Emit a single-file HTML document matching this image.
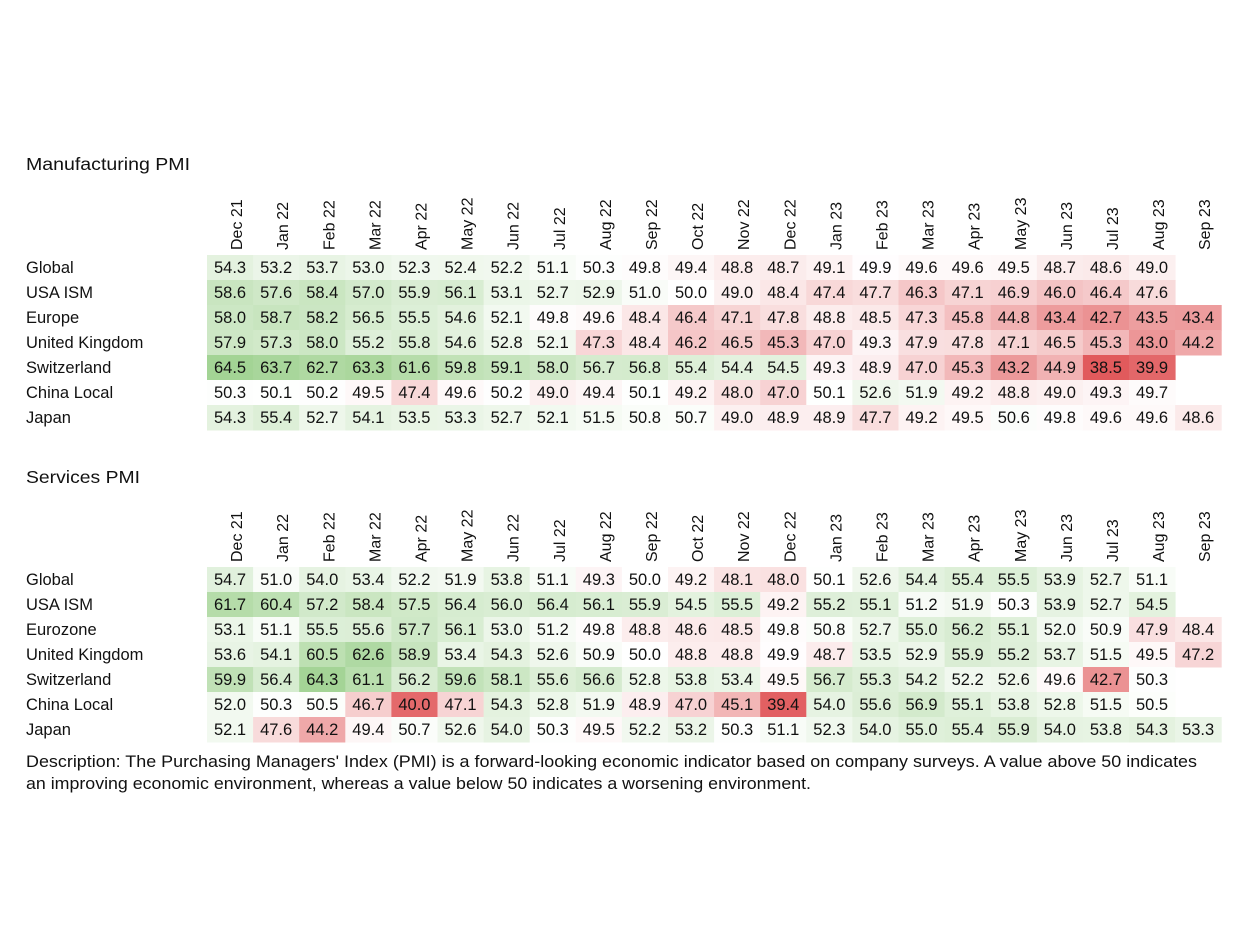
<!DOCTYPE html>
<html><head><meta charset="utf-8"><style>
body{margin:0;background:#fff;}
svg{display:block;font-family:"Liberation Sans",Arial,sans-serif;}
</style></head><body>
<svg id="c" width="1249" height="949" xmlns="http://www.w3.org/2000/svg">
<text x="26" y="170" font-size="17.5" fill="#111" textLength="164" lengthAdjust="spacingAndGlyphs">Manufacturing PMI</text>
<text x="26" y="483" font-size="17.5" fill="#111" textLength="114" lengthAdjust="spacingAndGlyphs">Services PMI</text>
<text x="26" y="767" font-size="16.5" fill="#111" textLength="1171" lengthAdjust="spacingAndGlyphs">Description: The Purchasing Managers' Index (PMI) is a forward-looking economic indicator based on company surveys. A value above 50 indicates</text>
<text x="26" y="789" font-size="16.5" fill="#111" textLength="785" lengthAdjust="spacingAndGlyphs">an improving economic environment, whereas a value below 50 indicates a worsening environment.</text>
</svg>
<script>
const months=["Dec 21","Jan 22","Feb 22","Mar 22","Apr 22","May 22","Jun 22","Jul 22","Aug 22","Sep 22","Oct 22","Nov 22","Dec 22","Jan 23","Feb 23","Mar 23","Apr 23","May 23","Jun 23","Jul 23","Aug 23","Sep 23"];
const mfgRows=["Global","USA ISM","Europe","United Kingdom","Switzerland","China Local","Japan"];
const mfgGlobal=[54.3,53.2,53.7,53.0,52.3,52.4,52.2,51.1,50.3,49.8,49.4,48.8,48.7,49.1,49.9,49.6,49.6,49.5,48.7,48.6,49.0,null];
const mfgUSA=[58.6,57.6,58.4,57.0,55.9,56.1,53.1,52.7,52.9,51.0,50.0,49.0,48.4,47.4,47.7,46.3,47.1,46.9,46.0,46.4,47.6,null];
const mfgEurope=[58.0,58.7,58.2,56.5,55.5,54.6,52.1,49.8,49.6,48.4,46.4,47.1,47.8,48.8,48.5,47.3,45.8,44.8,43.4,42.7,43.5,43.4];
const mfgUK=[57.9,57.3,58.0,55.2,55.8,54.6,52.8,52.1,47.3,48.4,46.2,46.5,45.3,47.0,49.3,47.9,47.8,47.1,46.5,45.3,43.0,44.2];
const mfgSwiss=[64.5,63.7,62.7,63.3,61.6,59.8,59.1,58.0,56.7,56.8,55.4,54.4,54.5,49.3,48.9,47.0,45.3,43.2,44.9,38.5,39.9,null];
const mfgChina=[50.3,50.1,50.2,49.5,47.4,49.6,50.2,49.0,49.4,50.1,49.2,48.0,47.0,50.1,52.6,51.9,49.2,48.8,49.0,49.3,49.7,null];
const mfgJapan=[54.3,55.4,52.7,54.1,53.5,53.3,52.7,52.1,51.5,50.8,50.7,49.0,48.9,48.9,47.7,49.2,49.5,50.6,49.8,49.6,49.6,48.6];
const srvRows=["Global","USA ISM","Eurozone","United Kingdom","Switzerland","China Local","Japan"];
const srvGlobal=[54.7,51.0,54.0,53.4,52.2,51.9,53.8,51.1,49.3,50.0,49.2,48.1,48.0,50.1,52.6,54.4,55.4,55.5,53.9,52.7,51.1,null];
const srvUSA=[61.7,60.4,57.2,58.4,57.5,56.4,56.0,56.4,56.1,55.9,54.5,55.5,49.2,55.2,55.1,51.2,51.9,50.3,53.9,52.7,54.5,null];
const srvEuro=[53.1,51.1,55.5,55.6,57.7,56.1,53.0,51.2,49.8,48.8,48.6,48.5,49.8,50.8,52.7,55.0,56.2,55.1,52.0,50.9,47.9,48.4];
const srvUK=[53.6,54.1,60.5,62.6,58.9,53.4,54.3,52.6,50.9,50.0,48.8,48.8,49.9,48.7,53.5,52.9,55.9,55.2,53.7,51.5,49.5,47.2];
const srvSwiss=[59.9,56.4,64.3,61.1,56.2,59.6,58.1,55.6,56.6,52.8,53.8,53.4,49.5,56.7,55.3,54.2,52.2,52.6,49.6,42.7,50.3,null];
const srvChina=[52.0,50.3,50.5,46.7,40.0,47.1,54.3,52.8,51.9,48.9,47.0,45.1,39.4,54.0,55.6,56.9,55.1,53.8,52.8,51.5,50.5,null];
const srvJapan=[52.1,47.6,44.2,49.4,50.7,52.6,54.0,50.3,49.5,52.2,53.2,50.3,51.1,52.3,54.0,55.0,55.4,55.9,54.0,53.8,54.3,53.3];
const mfgData=[mfgGlobal,mfgUSA,mfgEurope,mfgUK,mfgSwiss,mfgChina,mfgJapan];
const srvData=[srvGlobal,srvUSA,srvEuro,srvUK,srvSwiss,srvChina,srvJapan];

const NS="http://www.w3.org/2000/svg";
const svg=document.getElementById('c');
const x0=207,cw=46.1,rh=25;
const xs=i=>x0+i*cw;
function color(v){
  if(v>=50){const t=Math.min((v-50)/15,1);
    return `rgb(${Math.round(255-t*95)},${Math.round(255-t*45)},${Math.round(255-t*110)})`;}
  const t=Math.min((50-v)/11,1);
  return `rgb(${Math.round(255-t*30)},${Math.round(255-t*165)},${Math.round(255-t*163)})`;
}
function el(tag,attrs,txt){const e=document.createElementNS(NS,tag);for(const k in attrs)e.setAttribute(k,attrs[k]);if(txt!=null)e.textContent=txt;svg.appendChild(e);return e;}
function table(rows,data,headerBottom,rowTop,prefix){
  months.forEach((m,i)=>{
    const cx=xs(i)+cw/2+12;
    const t=el('text',{x:cx,y:headerBottom,'font-size':16,fill:'#111',transform:`rotate(-90 ${cx} ${headerBottom})`},m);
    
    
  });
  rows.forEach((r,j)=>{
    const y=rowTop+j*rh;
    const lt=el('text',{x:26,y:y+18,'font-size':16.5,fill:'#111'},r);
    
    
    data[j].forEach((v,i)=>{
      if(v==null)return;
      const rc=el('rect',{x:xs(i),y:y,width:cw+0.5,height:rh+0.5,fill:color(v)});
      
      
      const tx=el('text',{x:xs(i)+cw/2,y:y+18,'font-size':16.5,'text-anchor':'middle',fill:'#111'},v.toFixed(1));
      
      
    });
  });
}
table(mfgRows,mfgData,250,255,'manufacturing');
table(srvRows,srvData,562,567,'services');
</script>
</body></html>
